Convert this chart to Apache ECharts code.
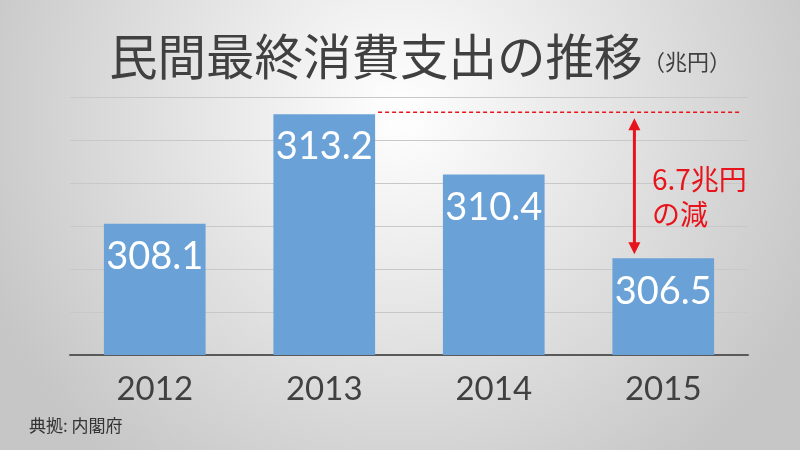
<!DOCTYPE html>
<html><head><meta charset="utf-8">
<script src="https://cdn.jsdelivr.net/npm/echarts@6/dist/echarts.min.js"></script>
<style>html,body{margin:0;padding:0;}#c{width:800px;height:450px;}</style>
</head><body><div id="c"></div>
<script>
const categories = ['2012', '2013', '2014', '2015'];
const values = [308.1, 313.2, 310.4, 306.5];
const titleText = '民間最終消費支出の推移';
const unitText = '（兆円）';
const sourceText = '典拠: 内閣府';
const noteLines = ['6.7兆円', 'の減'];
const yMin = 302, yMax = 314, yStep = 2;

const chart = echarts.init(document.getElementById('c'));
chart.setOption({
  animation: false,
  backgroundColor: {
    type: 'radial', x: 0.5, y: 0.25, r: 1.0,
    colorStops: [{offset: 0, color: '#ffffff'}, {offset: 1, color: '#c6c6c6'}]
  },
  grid: {left: 70, right: 52, top: 97, bottom: 95},
  xAxis: {
    type: 'category', data: categories,
    axisLine: {lineStyle: {color: '#595959', width: 2}},
    axisTick: {show: false},
    axisLabel: {color: '#404040', fontSize: 33, fontFamily: 'Lato', margin: 18}
  },
  yAxis: {
    type: 'value', min: yMin, max: yMax, interval: yStep,
    axisLabel: {show: false}, axisLine: {show: false}, axisTick: {show: false},
    splitLine: {lineStyle: {color: '#c8c8c8', width: 1}}
  },
  series: [{
    type: 'bar', data: values, barWidth: '60%',
    itemStyle: {color: '#6aa2d7'},
    label: {show: true, position: 'insideTop', distance: 14, color: '#ffffff',
      fontSize: 38, fontFamily: 'Lato', formatter: p => p.value.toFixed(1)}
  }]
});

const pTop = chart.convertToPixel({seriesIndex: 0}, [1, values[1]]);
const pLow = chart.convertToPixel({seriesIndex: 0}, [3, values[3]]);
const pRightEdge = chart.convertToPixel({xAxisIndex: 0}, categories[3]);
const band = (chart.convertToPixel({xAxisIndex: 0}, categories[1]) - chart.convertToPixel({xAxisIndex: 0}, categories[0]));
const barHalf = band * 0.3;
const ax = pLow[0] - barHalf + 22;
chart.setOption({
  graphic: [
    {type: 'text', left: 109, top: 32, style: {text: titleText, fontSize: 48.5, fill: '#404040', fontFamily: 'Noto Sans CJK JP'}},
    {type: 'text', left: 643, top: 51, style: {text: unitText, fontSize: 22, fill: '#404040', fontFamily: 'Noto Sans CJK JP'}},
    {type: 'text', left: 29, top: 417, style: {text: sourceText, fontSize: 17, fill: '#333333', fontFamily: 'Noto Sans CJK JP'}},
    {type: 'line', shape: {x1: pTop[0] + barHalf + 3, y1: pTop[1] - 2, x2: pRightEdge + barHalf + 26, y2: pTop[1] - 2},
      style: {stroke: '#e8141c', lineWidth: 1.5, lineDash: [4, 3]}},
    {type: 'line', shape: {x1: ax, y1: pTop[1] + 12, x2: ax, y2: pLow[1] - 12},
      style: {stroke: '#e8141c', lineWidth: 3}},
    {type: 'polygon', shape: {points: [[ax, pTop[1] + 4], [ax - 6, pTop[1] + 16], [ax + 6, pTop[1] + 16]]}, style: {fill: '#e8141c'}},
    {type: 'polygon', shape: {points: [[ax, pLow[1] - 4], [ax - 6, pLow[1] - 16], [ax + 6, pLow[1] - 16]]}, style: {fill: '#e8141c'}},
    {type: 'text', left: 652, top: 162, style: {text: noteLines.join('\n'), fontSize: 28, lineHeight: 35, fill: '#e8141c', fontFamily: 'Noto Sans CJK JP'}}
  ]
});
</script></body></html>
